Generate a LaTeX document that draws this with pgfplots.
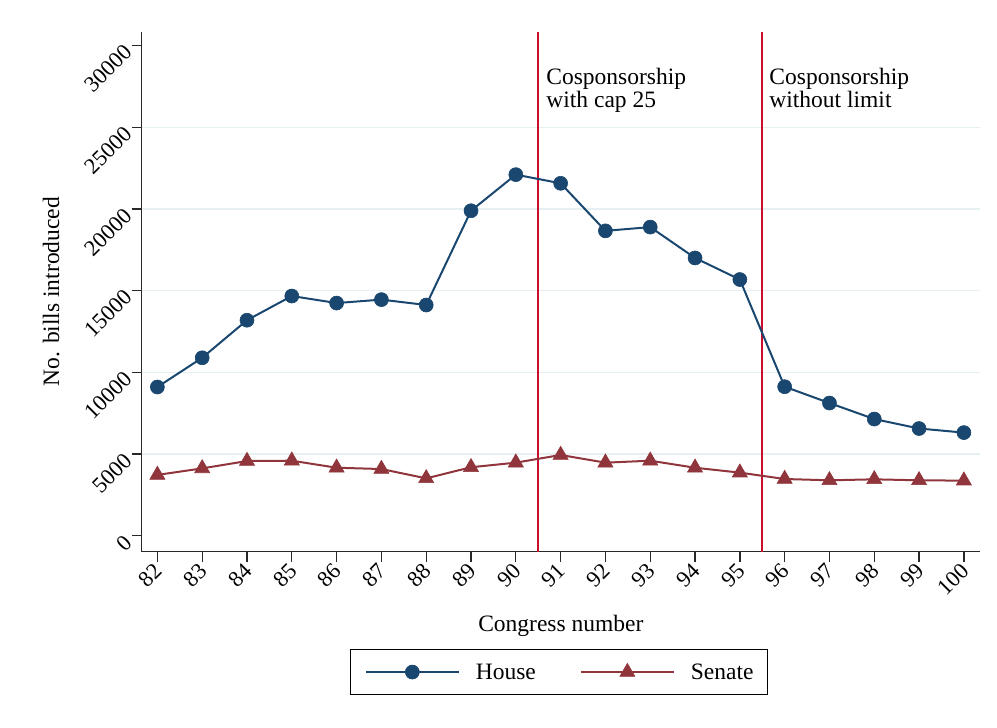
\documentclass[border=0pt]{standalone}
\usepackage{fontspec}
\setmainfont{Liberation Serif}
\usepackage{pgfplots}
\usepackage{pgfplotstable}
\pgfplotsset{compat=1.18}

\definecolor{housecol}{RGB}{26,71,111}
\definecolor{senatecol}{RGB}{144,53,59}
\definecolor{rulecol}{RGB}{200,16,46}
\definecolor{gridcol}{RGB}{230,239,242}
\definecolor{axiscol}{RGB}{40,40,40}

% Bills introduced per Congress, by chamber
\pgfplotstableread{
congress house senate
82   9100  3720
83  10890  4120
84  13190  4570
85  14670  4590
86  14240  4160
87  14450  4080
88  14120  3510
89  19890  4190
90  22100  4470
91  21570  4940
92  18660  4470
93  18890  4590
94  17000  4160
95  15680  3860
96   9120  3470
97   8120  3390
98   7140  3450
99   6560  3390
100  6310  3370
}\billdata

\newcommand{\bigfont}{\fontsize{23.5bp}{23bp}\selectfont}
\newcommand{\tickfont}{\fontsize{22.5bp}{24bp}\selectfont}

\begin{document}
\begin{tikzpicture}
\path[use as bounding box] (0,0) rectangle (997bp,728bp);
\begin{axis}[
  at={(141.7bp,176.3bp)}, anchor=south west,
  scale only axis, width=838.3bp, height=520bp,
  xmin=81.65, xmax=100.36, ymin=-980, ymax=30850,
  scaled x ticks=false, scaled y ticks=false,
  axis lines*=left,
  axis line style={axiscol, line width=1.5bp},
  tick align=outside,
  major tick length=10bp,
  tick style={axiscol, line width=1.3bp},
  xtick={82,...,100},
  xticklabels={82,83,84,85,86,87,88,89,90,91,92,93,94,95,96,97,98,99,100},
  ytick={0,5000,10000,15000,20000,25000,30000},
  yticklabels={0,5000,10000,15000,20000,25000,30000},
  extra y ticks={5000,10000,15000,20000,25000},
  extra y tick labels={},
  extra y tick style={grid=major, major tick length=0pt,
    major grid style={gridcol, line width=1.5bp}},
  x tick label style={font=\tickfont, rotate=45, anchor=east, yshift=-5bp},
  y tick label style={font=\tickfont, rotate=45, anchor=east, xshift=-1bp},
  xlabel={Congress number},
  ylabel={No. bills introduced},
  xlabel style={font=\bigfont, at={(axis description cs:0.5,-0.1433)}, anchor=center},
  ylabel style={font=\bigfont, at={(axis description cs:-0.108,0.5)}, anchor=center},
  legend columns=2,
  legend style={at={(0.498,-0.2313)}, anchor=center, draw=black,
    line width=1.2bp, inner xsep=14bp, inner ysep=14bp,
    column sep=16bp, nodes={inner sep=0pt}, font=\bigfont},
  legend image code/.code={\draw[mark repeat=2,mark phase=2,#1]
    plot coordinates {(0bp,0bp) (46.5bp,0bp) (93bp,0bp)};},
]
% policy change markers
\addplot[rulecol, line width=2bp, forget plot] coordinates {(90.5,-980) (90.5,30850)};
\addplot[rulecol, line width=2bp, forget plot] coordinates {(95.5,-980) (95.5,30850)};

\addplot[housecol, line width=2bp, mark=*, mark size=7bp,
  mark options={solid, fill=housecol, draw=housecol, line width=0.6bp}]
  table[x=congress, y=house] {\billdata};
\addlegendentry{House\hspace*{28bp}}

\addplot[senatecol, line width=2bp, mark=triangle*, mark size=8.7bp,
  mark options={solid, fill=senatecol, draw=senatecol, line width=0.6bp}]
  table[x=congress, y=senate] {\billdata};
\addlegendentry{Senate}

\node[anchor=north west, align=left, inner sep=0pt, font=\bigfont, xshift=8bp]
  at (axis cs:90.5,28620) {Cosponsorship\\with cap 25};
\node[anchor=north west, align=left, inner sep=0pt, font=\bigfont, xshift=7bp]
  at (axis cs:95.5,28620) {Cosponsorship\\without limit};
\end{axis}
\end{tikzpicture}
\end{document}
